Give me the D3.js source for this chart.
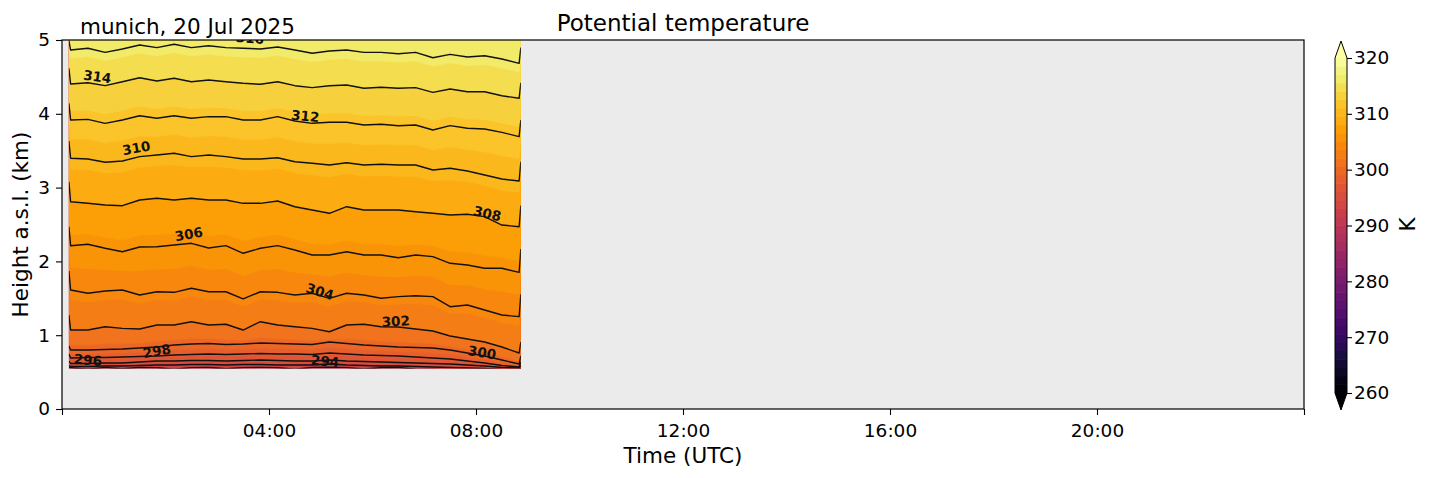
<!DOCTYPE html>
<html><head><meta charset="utf-8">
<script src="https://cdn.jsdelivr.net/npm/d3@7"></script>
<style>
body{margin:0;background:#fff}
text{font-family:"DejaVu Sans",sans-serif;fill:#000}
</style>
</head><body>
<svg id="c" width="1429" height="478"></svg>
<script>
// ---------- data ----------
const times = ["00:08","00:10","00:30","00:50","01:10","01:30","01:50","02:10","02:30","02:50","03:10","03:30","03:50","04:10","04:30","04:50","05:10","05:30","05:50","06:10","06:30","06:50","07:10","07:30","07:50","08:10","08:30","08:50","08:52"];
const isoLevels = [292,294,296,298,300,302,304,306,308,310,312,314,316];
// height (km) of each isotherm of potential temperature (K) at each time
const theta292 = [0.560,0.558,0.540,0.562,0.545,0.562,0.558,0.540,0.560,0.562,0.545,0.560,0.564,0.558,0.540,0.562,0.565,0.560,0.542,0.558,0.562,0.540,0.535,0.530,0.520,0.520,0.520,0.520,0.520];
const theta294 = [0.589,0.576,0.576,0.583,0.583,0.589,0.596,0.596,0.603,0.603,0.596,0.603,0.603,0.596,0.596,0.596,0.610,0.596,0.589,0.583,0.583,0.576,0.569,0.562,0.556,0.549,0.535,0.528,0.556];
const theta296 = [0.650,0.617,0.617,0.623,0.623,0.637,0.650,0.650,0.657,0.657,0.650,0.657,0.664,0.657,0.650,0.650,0.664,0.650,0.644,0.637,0.630,0.623,0.617,0.610,0.596,0.583,0.562,0.556,0.596];
const theta298 = [0.745,0.691,0.698,0.698,0.705,0.711,0.718,0.732,0.738,0.745,0.738,0.745,0.752,0.745,0.745,0.738,0.759,0.745,0.732,0.725,0.718,0.705,0.691,0.678,0.650,0.623,0.589,0.569,0.637];
const theta300 = [0.854,0.799,0.799,0.806,0.813,0.827,0.840,0.867,0.881,0.888,0.874,0.881,0.894,0.888,0.881,0.874,0.908,0.888,0.867,0.854,0.840,0.833,0.827,0.799,0.759,0.718,0.664,0.610,0.718];
const theta302 = [1.274,1.070,1.070,1.115,1.093,1.084,1.138,1.138,1.183,1.138,1.148,1.070,1.183,1.138,1.115,1.093,1.047,1.138,1.148,1.115,1.111,1.084,1.057,0.989,0.949,0.908,0.840,0.759,0.908];
const theta304 = [1.870,1.612,1.568,1.599,1.612,1.545,1.589,1.581,1.636,1.589,1.589,1.491,1.589,1.581,1.545,1.568,1.500,1.568,1.545,1.500,1.522,1.535,1.522,1.386,1.409,1.341,1.274,1.251,1.554];
const theta306 = [2.470,2.213,2.232,2.178,2.131,2.195,2.199,2.222,2.245,2.182,2.213,2.110,2.178,2.213,2.154,2.087,2.087,2.131,2.087,2.087,2.050,2.087,2.064,1.974,1.951,1.907,1.907,1.852,2.168];
const theta308 = [3.080,2.809,2.787,2.764,2.755,2.832,2.855,2.832,2.855,2.832,2.832,2.787,2.787,2.818,2.741,2.696,2.652,2.741,2.696,2.696,2.696,2.673,2.652,2.629,2.638,2.606,2.493,2.470,2.755];
const theta310 = [3.631,3.397,3.388,3.343,3.360,3.419,3.442,3.465,3.419,3.442,3.419,3.388,3.388,3.405,3.351,3.329,3.306,3.337,3.306,3.316,3.306,3.306,3.238,3.262,3.225,3.171,3.117,3.089,3.351];
const theta312 = [4.142,3.916,3.925,3.871,3.916,3.974,3.939,3.974,3.939,3.961,3.961,3.916,3.916,3.961,3.902,3.871,3.885,3.885,3.848,3.858,3.839,3.848,3.780,3.839,3.804,3.794,3.749,3.690,3.916];
const theta314 = [4.617,4.404,4.421,4.381,4.435,4.489,4.444,4.482,4.435,4.458,4.435,4.413,4.400,4.435,4.381,4.354,4.381,4.390,4.346,4.359,4.346,4.354,4.291,4.336,4.299,4.299,4.245,4.210,4.421];
const theta316 = [4.990,4.864,4.888,4.833,4.878,4.932,4.896,4.942,4.896,4.923,4.896,4.888,4.878,4.905,4.864,4.820,4.851,4.864,4.833,4.833,4.814,4.833,4.760,4.806,4.770,4.787,4.743,4.684,4.898];
const dataBottomKm = 0.548;

// contour labels
const labelValues  = [316,314,312,310,308,306,304,302,300,298,296,294];
const labelTimes   = ["03:38","00:41","04:42","01:26","08:13","02:27","04:59","06:27","08:07","01:50","00:30","05:05"];
const labelHeights = [5.027,4.505,3.970,3.537,2.649,2.371,1.592,1.192,0.766,0.786,0.664,0.650];
const labelAngles  = [5,8,6,-10,13,-10,17,-3,9,-10,5,6];

// axes
const xTickHours  = [0,4,8,12,16,20,24];
const xTickLabels = ["","04:00","08:00","12:00","16:00","20:00",""];
const yTicks = [0,1,2,3,4,5];
const cbTicks = [260,270,280,290,300,310,320];
const cbMin = 260, cbMax = 320, cbStep = 1.5;

// ---------- drawing ----------
const svg = d3.select("#c");
const toH = s => { const [h,m] = s.split(":").map(Number); return h + m/60; };
const tH = times.map(toH);
const isoHeights = [theta292,theta294,theta296,theta298,theta300,theta302,theta304,theta306,theta308,theta310,theta312,theta314,theta316];

const L = 62, R = 1304, T = 40, B = 409;
const x = d3.scaleLinear().domain([0,24]).range([L,R]);
const y = d3.scaleLinear().domain([0,5]).range([B,T]);
const col = v => d3.interpolateInferno((v - cbMin)/(cbMax - cbMin));

const defs = svg.append("defs");
defs.append("clipPath").attr("id","axclip").append("rect")
  .attr("x",L).attr("y",T).attr("width",R-L).attr("height",B-T);
defs.append("clipPath").attr("id","dataclip").append("rect")
  .attr("x",x(tH[0])).attr("y",y(5)).attr("width",x(tH[tH.length-1])-x(tH[0])).attr("height",y(dataBottomKm)-y(5));

svg.append("rect").attr("x",L).attr("y",T).attr("width",R-L).attr("height",B-T).attr("fill","#ebebeb");

const gData = svg.append("g").attr("clip-path","url(#dataclip)");
function hAt(Lv, i){
  let j = Math.floor((Lv - isoLevels[0])/2);
  j = Math.max(0, Math.min(isoLevels.length-2, j));
  const a = isoHeights[j][i], b = isoHeights[j+1][i];
  return a + (b-a)*(Lv - isoLevels[j])/(isoLevels[j+1]-isoLevels[j]);
}
const levels = d3.range(cbMin, cbMax + 0.001, cbStep);
const fillBounds = levels.filter(v => v >= 291 && v <= 316);
gData.append("rect").attr("x",x(tH[0])).attr("y",y(5)).attr("width",x(tH[tH.length-1])-x(tH[0]))
  .attr("height",y(dataBottomKm)-y(5)+2).attr("fill",col(fillBounds[0]-cbStep/2));
const area = d3.area().x((d,i)=>x(tH[i])).y0(d=>y(d)).y1(y(5.3));
fillBounds.forEach(Lv => {
  const hs = tH.map((_,i)=>hAt(Lv,i));
  gData.append("path").attr("d",area(hs)).attr("fill",col(Lv+cbStep/2))
    .attr("stroke",col(Lv+cbStep/2)).attr("stroke-width",0.4);
});
const line = d3.line().x((d,i)=>x(tH[i])).y(d=>y(d));
isoHeights.forEach(hs => {
  gData.append("path").attr("d",line(hs)).attr("fill","none")
    .attr("stroke","#111").attr("stroke-width",1.4).attr("stroke-linejoin","round");
});

const gLab = svg.append("g").attr("clip-path","url(#axclip)");
labelValues.forEach((v,k) => {
  const px = x(toH(labelTimes[k])), py = y(labelHeights[k]);
  gLab.append("text").attr("transform",`translate(${px},${py}) rotate(${labelAngles[k]})`)
    .attr("text-anchor","middle").attr("dy","0.36em")
    .style("font-size","13.5px").style("font-weight","bold").style("fill","#111").text(v);
});

svg.append("rect").attr("x",L).attr("y",T).attr("width",R-L).attr("height",B-T)
  .attr("fill","none").attr("stroke","#000").attr("stroke-width",1.2);

const xAxis = d3.axisBottom(x).tickValues(xTickHours).tickFormat((d,i)=>xTickLabels[i]).tickSize(6).tickPadding(9).tickSizeOuter(0);
const gx = svg.append("g").attr("transform",`translate(0,${B})`).call(xAxis);
const yAxis = d3.axisLeft(y).tickValues(yTicks).tickFormat(d3.format("d")).tickSize(6).tickPadding(6).tickSizeOuter(0);
const gy = svg.append("g").attr("transform",`translate(${L},0)`).call(yAxis);
[gx,gy].forEach(g=>{
  g.select(".domain").remove();
  g.selectAll(".tick line").attr("stroke","#000").attr("stroke-width",1.1);
  g.selectAll(".tick text").style("font-size","18.5px").attr("fill","#000");
});

svg.append("text").attr("x",(L+R)/2).attr("y",31).attr("text-anchor","middle").style("font-size","23px").text("Potential temperature");
svg.append("text").attr("x",80).attr("y",34).style("font-size","21.5px").text("munich, 20 Jul 2025");
svg.append("text").attr("x",(L+R)/2).attr("y",463).attr("text-anchor","middle").style("font-size","21.5px").text("Time (UTC)");
svg.append("text").attr("transform",`translate(28,${(T+B)/2}) rotate(-90)`).attr("text-anchor","middle").style("font-size","21.5px").text("Height a.s.l. (km)");

const cbX0 = 1335, cbX1 = 1347, cbTop = 58, cbBot = 393, ext = 17;
const cy = d3.scaleLinear().domain([cbMin,cbMax]).range([cbBot,cbTop]);
const gcb = svg.append("g");
levels.slice(0,-1).forEach(Lv => {
  gcb.append("rect").attr("x",cbX0).attr("width",cbX1-cbX0)
    .attr("y",cy(Lv+cbStep)-0.3).attr("height",cy(Lv)-cy(Lv+cbStep)+0.6)
    .attr("fill",col(Lv+cbStep/2));
});
const cmid = (cbX0+cbX1)/2;
gcb.append("path").attr("d",`M${cbX0},${cbTop}L${cmid},${cbTop-ext}L${cbX1},${cbTop}Z`).attr("fill",d3.interpolateInferno(1));
gcb.append("path").attr("d",`M${cbX0},${cbBot}L${cmid},${cbBot+ext}L${cbX1},${cbBot}Z`).attr("fill",d3.interpolateInferno(0));
gcb.append("path").attr("d",`M${cbX0},${cbTop}L${cmid},${cbTop-ext}L${cbX1},${cbTop}L${cbX1},${cbBot}L${cmid},${cbBot+ext}L${cbX0},${cbBot}Z`)
  .attr("fill","none").attr("stroke","#000").attr("stroke-width",1);
const cbAxis = d3.axisRight(cy).tickValues(cbTicks).tickSize(5).tickPadding(2).tickSizeOuter(0);
const gca = svg.append("g").attr("transform",`translate(${cbX1},0)`).call(cbAxis);
gca.select(".domain").remove();
gca.selectAll(".tick line").attr("stroke","#000").attr("stroke-width",1.1);
gca.selectAll(".tick text").style("font-size","18.5px").attr("fill","#000");
svg.append("text").attr("transform",`translate(1415,${(T+B)/2}) rotate(-90)`).attr("text-anchor","middle").style("font-size","21.5px").text("K");
</script>
</body></html>
